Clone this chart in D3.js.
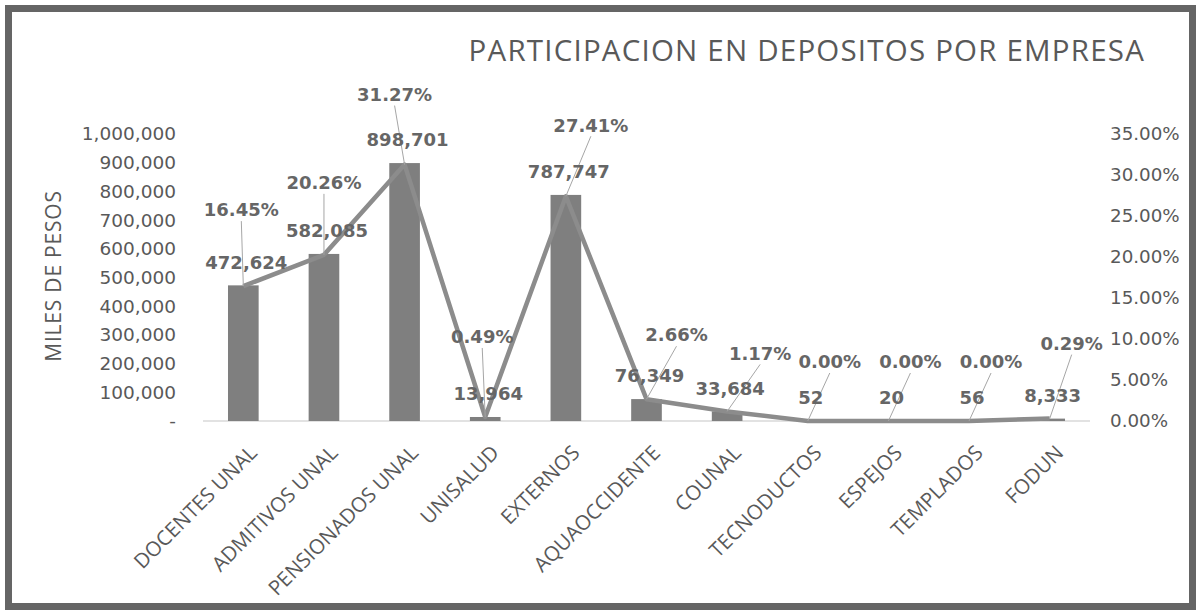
<!DOCTYPE html>
<html>
<head>
<meta charset="utf-8">
<script src="https://cdn.jsdelivr.net/npm/d3@7"></script>
<style>
  body { margin: 0; background: #fff; }
  svg { display: block; }
</style>
</head>
<body>
<script>
let categorias = ['DOCENTES UNAL', 'ADMITIVOS UNAL', 'PENSIONADOS UNAL', 'UNISALUD', 'EXTERNOS',
                  'AQUAOCCIDENTE', 'COUNAL', 'TECNODUCTOS', 'ESPEJOS', 'TEMPLADOS', 'FODUN']
let depositos = [472624, 582085, 898701, 13964, 787747, 76349, 33684, 52, 20, 56, 8333]
let participacion = [16.45, 20.26, 31.27, 0.49, 27.41, 2.66, 1.17, 0.00, 0.00, 0.00, 0.29]
let ticksMiles = [0, 100000, 200000, 300000, 400000, 500000, 600000, 700000, 800000, 900000, 1000000]
let ticksPct = [0, 5, 10, 15, 20, 25, 30, 35]

// where the % labels sit relative to their point (moved by hand in the original)
let pctOffset = [[-2, -76], [0, -72], [-10, -70], [-3, -80], [25, -71], [30, -64],
                 [33, -58], [22, -59], [22, -59], [22, -59], [22, -75]]

let W = 1196, H = 610
let plot = { left: 203, right: 1090, top: 134, bottom: 421 }

let svg = d3.select('body').append('svg')
    .attr('width', W)
    .attr('height', H)

svg.append('rect')
    .attr('x', 8.5).attr('y', 8.5)
    .attr('width', 1184).attr('height', 598)
    .attr('fill', '#fff')
    .attr('stroke', '#656565')
    .attr('stroke-width', 7)

let x = d3.scaleBand()
    .domain(categorias)
    .range([plot.left, plot.right])
    .paddingInner(0.62)
    .paddingOuter(0.31)

let yL = d3.scaleLinear().domain([0, 1000000]).range([plot.bottom, plot.top])
let yR = d3.scaleLinear().domain([0, 35]).range([plot.bottom, plot.top])
let cx = d => x(d) + x.bandwidth() / 2

// title
svg.append('text')
    .attr('x', 1145).attr('y', 61)
    .attr('text-anchor', 'end')
    .attr('font-family', 'Open Sans')
    .attr('font-size', 29.5)
    .attr('letter-spacing', 1.2)
    .attr('fill', '#595959')
    .text('PARTICIPACION EN DEPOSITOS POR EMPRESA')

// left axis
let fmt = d3.format(',')
let leftAxis = d3.axisLeft(yL)
    .tickValues(ticksMiles)
    .tickSize(0)
    .tickPadding(0)
    .tickFormat(d => d === 0 ? '-' : fmt(d))

svg.append('g')
    .attr('transform', 'translate(176,0)')
    .call(leftAxis)
    .call(g => g.select('.domain').remove())
    .selectAll('text')
    .attr('font-family', 'DejaVu Sans')
    .attr('font-size', 18.5)
    .attr('fill', '#595959')

let rightAxis = d3.axisRight(yR)
    .tickValues(ticksPct)
    .tickSize(0)
    .tickPadding(0)
    .tickFormat(d => d.toFixed(2) + '%')

svg.append('g')
    .attr('transform', 'translate(1110,0)')
    .call(rightAxis)
    .call(g => g.select('.domain').remove())
    .selectAll('text')
    .attr('font-family', 'DejaVu Sans')
    .attr('font-size', 18.3)
    .attr('fill', '#595959')

svg.append('text')
    .attr('transform', 'translate(61,276) rotate(-90)')
    .attr('text-anchor', 'middle')
    .attr('font-family', 'Open Sans')
    .attr('font-size', 21)
    .attr('letter-spacing', 0.8)
    .attr('fill', '#595959')
    .text('MILES DE PESOS')

// baseline
svg.append('line')
    .attr('x1', plot.left).attr('x2', plot.right)
    .attr('y1', plot.bottom).attr('y2', plot.bottom)
    .attr('stroke', '#d9d9d9')
    .attr('stroke-width', 1.5)

// category labels
svg.append('g')
    .selectAll('text')
    .data(categorias)
    .enter()
    .append('text')
    .attr('transform', d => 'translate(' + (cx(d) + 10) + ',' + (plot.bottom + 28) + ') rotate(-45)')
    .attr('text-anchor', 'end')
    .attr('dy', '0.35em')
    .attr('font-family', 'Open Sans')
    .attr('font-size', 20.5)
    .attr('fill', '#595959')
    .text(d => d)

// bars
svg.append('g')
    .selectAll('rect')
    .data(categorias)
    .enter()
    .append('rect')
    .attr('x', d => x(d))
    .attr('width', x.bandwidth())
    .attr('y', (d, i) => yL(depositos[i]))
    .attr('height', (d, i) => plot.bottom - yL(depositos[i]))
    .attr('fill', '#7f7f7f')

// line
let line = d3.line()
    .x((d, i) => cx(categorias[i]))
    .y(d => yR(d))

svg.append('path')
    .datum(participacion)
    .attr('d', line)
    .attr('fill', 'none')
    .attr('stroke', '#8c8c8c')
    .attr('stroke-width', 4.5)
    .attr('stroke-linejoin', 'round')

// leader lines for % labels
svg.append('g')
    .selectAll('line')
    .data(participacion)
    .enter()
    .append('line')
    .attr('x1', (d, i) => cx(categorias[i]) + pctOffset[i][0])
    .attr('y1', (d, i) => yR(d) + pctOffset[i][1] + 11)
    .attr('x2', (d, i) => cx(categorias[i]))
    .attr('y2', d => yR(d))
    .attr('stroke', '#a6a6a6')
    .attr('stroke-width', 1)

// value labels
svg.append('g')
    .selectAll('text')
    .data(depositos)
    .enter()
    .append('text')
    .attr('x', (d, i) => cx(categorias[i]) + 3)
    .attr('y', d => yL(d) - 23)
    .attr('dy', '0.35em')
    .attr('text-anchor', 'middle')
    .attr('font-family', 'DejaVu Sans')
    .attr('font-weight', 'bold')
    .attr('font-size', 18)
    .attr('fill', '#666')
    .text(d => fmt(d))

// % labels
svg.append('g')
    .selectAll('text')
    .data(participacion)
    .enter()
    .append('text')
    .attr('x', (d, i) => cx(categorias[i]) + pctOffset[i][0])
    .attr('y', (d, i) => yR(d) + pctOffset[i][1])
    .attr('dy', '0.35em')
    .attr('text-anchor', 'middle')
    .attr('font-family', 'DejaVu Sans')
    .attr('font-weight', 'bold')
    .attr('font-size', 18)
    .attr('fill', '#666')
    .text(d => d.toFixed(2) + '%')
</script>
</body>
</html>
